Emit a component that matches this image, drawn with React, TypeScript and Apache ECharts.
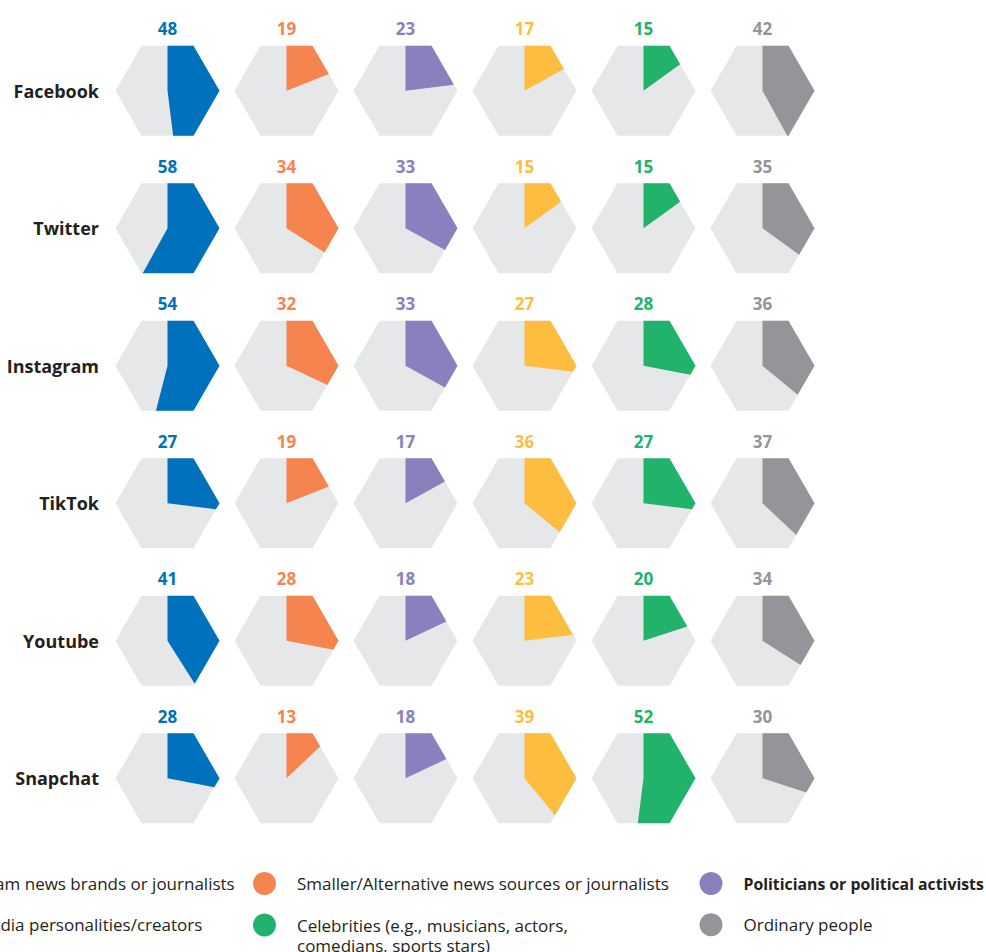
import React, { useEffect, useRef } from "react";
import * as echarts from "echarts";

const platforms = ["Facebook", "Twitter", "Instagram", "TikTok", "Youtube", "Snapchat"];
const sources = [
  "Mainstream news brands or journalists",
  "Smaller/Alternative news sources or journalists",
  "Politicians or political activists",
  "Social media personalities/creators",
  "Celebrities (e.g., musicians, actors,\ncomedians, sports stars)",
  "Ordinary people",
];
const colors = ["#0071bc", "#f5844f", "#8981bd", "#fdbe40", "#21b36b", "#939598"];

// values per source (column), in platform order
const mainstream = [48, 58, 54, 27, 41, 28];
const alternative = [19, 34, 32, 19, 28, 13];
const politicians = [23, 33, 33, 17, 18, 18];
const personalities = [17, 15, 27, 36, 23, 39];
const celebrities = [15, 15, 28, 27, 20, 52];
const ordinary = [42, 35, 36, 37, 34, 30];

const seriesValues = [mainstream, alternative, politicians, personalities, celebrities, ordinary];

const FONT = "'Open Sans', sans-serif";
const HEX_BG = "#e6e7e8";
const TEXT = "#231f20";
const R = 52;

function hexPoints(cx: number, cy: number, r: number) {
  const pts: number[][] = [];
  for (let k = 0; k < 6; k++) {
    const phi = ((30 + 60 * k) * Math.PI) / 180;
    pts.push([cx + r * Math.sin(phi), cy - r * Math.cos(phi)]);
  }
  return pts;
}

function wedgePoints(cx: number, cy: number, r: number, value: number) {
  const a = (r * Math.sqrt(3)) / 2;
  const theta = (value / 100) * 360;
  const pts: number[][] = [[cx, cy], [cx, cy - a]];
  for (let k = 0; k < 6; k++) {
    const v = 30 + 60 * k;
    if (v < theta) {
      const phi = (v * Math.PI) / 180;
      pts.push([cx + r * Math.sin(phi), cy - r * Math.cos(phi)]);
    }
  }
  const n = Math.round(theta / 60) * 60;
  const dist = a / Math.cos(((theta - n) * Math.PI) / 180);
  const t = (theta * Math.PI) / 180;
  pts.push([cx + dist * Math.sin(t), cy - dist * Math.cos(t)]);
  return pts;
}

export default function App() {
  const ref = useRef<HTMLDivElement>(null);
  useEffect(() => {
    if (!ref.current) return;
    const chart = echarts.init(ref.current, undefined, { renderer: "svg" });

    const series = sources.map((name, c) => ({
      type: "custom",
      name,
      itemStyle: { color: colors[c] },
      data: seriesValues[c].map((v, r) => [c, r, v]),
      encode: { x: 0, y: 1 },
      renderItem: (params: any, api: any) => {
        const ci = api.value(0);
        const ri = api.value(1);
        const val = api.value(2);
        const [cx, cy] = api.coord([ci, ri]);
        const a = (R * Math.sqrt(3)) / 2;
        return {
          type: "group",
          children: [
            { type: "polygon", shape: { points: hexPoints(cx, cy, R) }, style: { fill: HEX_BG } },
            { type: "polygon", shape: { points: wedgePoints(cx, cy, R, val) }, style: { fill: colors[c] } },
            {
              type: "text",
              x: cx,
              y: cy - a - 17,
              style: {
                text: String(val),
                fill: colors[c],
                font: `bold 17px ${FONT}`,
                align: "center",
                verticalAlign: "middle",
              },
            },
          ],
        };
      },
    }));

    const legendBase = {
      orient: "vertical",
      top: 872,
      height: 160,
      padding: 0,
      itemWidth: 23,
      itemHeight: 23,
      itemGap: 18.3,
      icon: "circle",
      selectedMode: false,
      textStyle: {
        fontFamily: FONT,
        fontSize: 17,
        color: TEXT,
        lineHeight: 20,
        padding: [0, 0, 0, 16],
      },
    };

    chart.setOption({
      animation: false,
      grid: { left: 108, right: 164, top: 22, bottom: 105 },
      xAxis: { type: "category", data: sources, show: false },
      yAxis: {
        type: "category",
        data: platforms,
        inverse: true,
        axisLine: { show: false },
        axisTick: { show: false },
        splitLine: { show: false },
        axisLabel: { fontFamily: FONT, fontWeight: "bold", fontSize: 18, color: TEXT, margin: 9 },
      },
      legend: [
        { ...legendBase, left: -119, data: [sources[0], sources[3]] },
        {
          ...legendBase,
          left: 253,
          itemGap: 0,
          formatter: (name: string) =>
            name === sources[4]
              ? name
                  .split("\n")
                  .map((l) => `{r|${l}}`)
                  .join("\n")
              : name,
          textStyle: {
            ...legendBase.textStyle,
            rich: {
              r: { fontFamily: FONT, fontSize: 17, color: TEXT, lineHeight: 20 },
            },
          },
          data: [
            sources[1],
            { name: sources[4], textStyle: { padding: [20, 0, 0, 16] } },
          ],
        },
        {
          ...legendBase,
          left: 699.5,
          data: [{ name: sources[2], textStyle: { fontWeight: "bold", fontSize: 15.8 } }, sources[5]],
        },
      ],
      series,
    });
    return () => chart.dispose();
  }, []);
  return (
    <div
      ref={ref}
      style={{ position: "fixed", left: 0, top: 0, width: 986, height: 952, background: "#fff" }}
    />
  );
}
